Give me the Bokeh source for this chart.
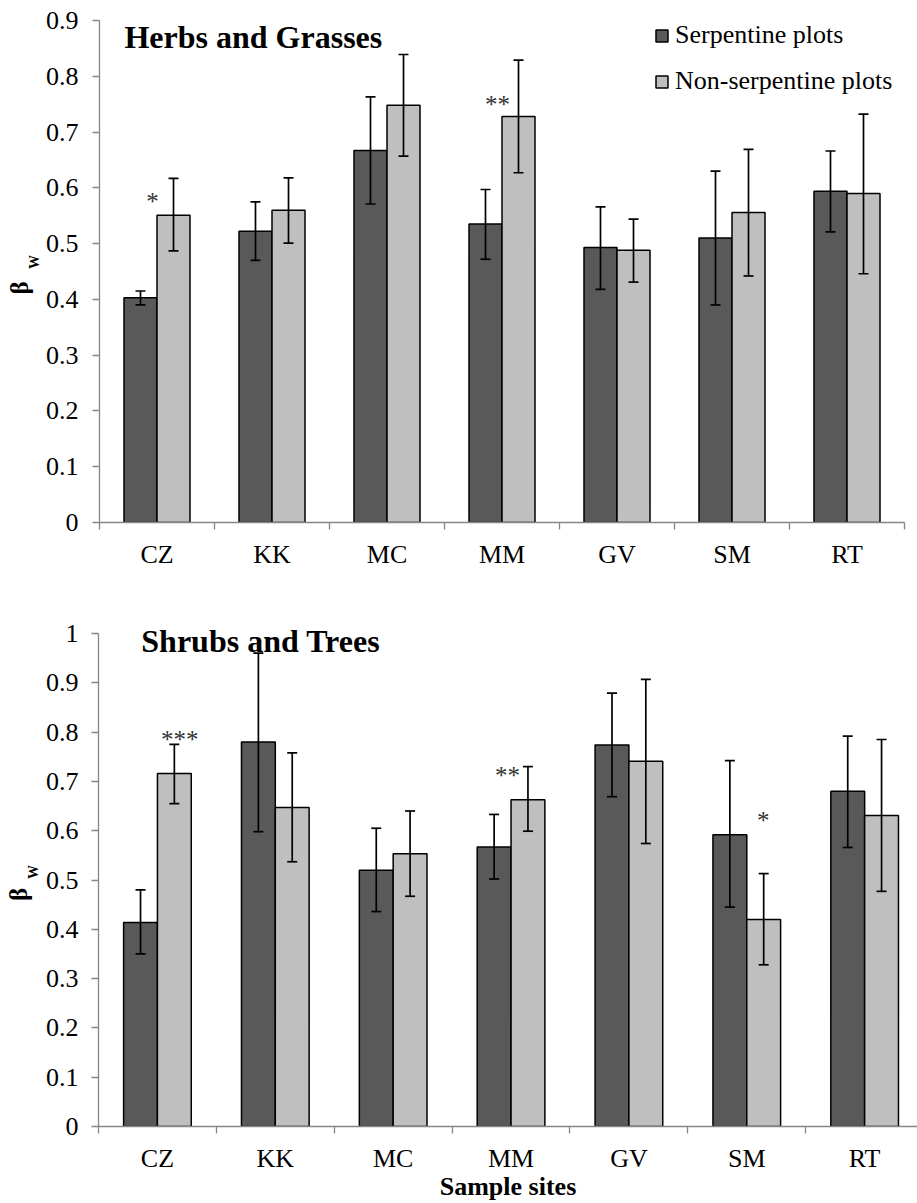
import numpy as np
from bokeh.plotting import figure
from bokeh.models import (ColumnDataSource, Whisker, TeeHead, FixedTicker, CustomJSTickFormatter,
                          Label, Legend, LegendItem, Range1d)
from bokeh.layouts import column, row
from bokeh.core.properties import value
from bokeh.embed import file_html
from bokeh.resources import INLINE

# ---------------- data ----------------
sites = ["CZ", "KK", "MC", "MM", "GV", "SM", "RT"]
series_names = ["Serpentine plots", "Non-serpentine plots"]

herb_serp = [0.403, 0.522, 0.667, 0.535, 0.493, 0.510, 0.594]
herb_serp_lo = [0.390, 0.470, 0.571, 0.472, 0.418, 0.390, 0.521]
herb_serp_hi = [0.415, 0.575, 0.763, 0.597, 0.566, 0.630, 0.666]
herb_non = [0.551, 0.560, 0.748, 0.728, 0.488, 0.556, 0.590]
herb_non_lo = [0.487, 0.501, 0.657, 0.627, 0.431, 0.442, 0.446]
herb_non_hi = [0.617, 0.618, 0.839, 0.829, 0.544, 0.669, 0.732]

shrub_serp = [0.414, 0.780, 0.520, 0.567, 0.774, 0.592, 0.680]
shrub_serp_lo = [0.350, 0.598, 0.436, 0.502, 0.669, 0.445, 0.566]
shrub_serp_hi = [0.480, 0.960, 0.605, 0.633, 0.879, 0.742, 0.792]
shrub_non = [0.716, 0.647, 0.553, 0.663, 0.741, 0.420, 0.631]
shrub_non_lo = [0.655, 0.537, 0.467, 0.599, 0.574, 0.328, 0.477]
shrub_non_hi = [0.775, 0.758, 0.640, 0.730, 0.907, 0.513, 0.785]

# significance marks: site index, text, y value, x offset (in category units)
herb_sig_site = [0, 3]
herb_sig_text = ["*", "**"]
herb_sig_y = [0.576, 0.750]
herb_sig_dx = [-0.04, -0.04]

shrub_sig_site = [0, 3, 5]
shrub_sig_text = ["***", "**", "*"]
shrub_sig_y = [0.785, 0.712, 0.621]
shrub_sig_dx = [0.19, -0.03, 0.14]

herb_ticks = [0, 0.1, 0.2, 0.3, 0.4, 0.5, 0.6, 0.7, 0.8, 0.9]
shrub_ticks = [0, 0.1, 0.2, 0.3, 0.4, 0.5, 0.6, 0.7, 0.8, 0.9, 1.0]

# ---------------- style ----------------
FONT = "Liberation Serif"
DARK = "#595959"
LIGHT = "#BFBFBF"
AXIS = "#868686"
BW = 0.287
LABW = 42  # width of the strip holding the y-axis title


def ylabel_strip(height, y_range, beta_xy, w_xy):
    # strip frame is aligned with the neighbouring panel's frame, so it shares its y range
    s = figure(width=LABW, height=height, x_range=Range1d(0, LABW), y_range=y_range,
               output_backend="svg", toolbar_location=None, min_border=0)
    s.axis.visible = False
    s.grid.visible = False
    s.outline_line_color = None
    s.title.visible = False
    s.text(x=[beta_xy[0]], y=[beta_xy[1]], text=["β"], angle=np.pi / 2,
           text_font=value(FONT), text_font_size="25px", text_font_style="bold",
           text_align="center", text_baseline="middle", text_color="black")
    s.text(x=[w_xy[0]], y=[w_xy[1]], text=["W"], angle=np.pi / 2,
           text_font=value(FONT), text_font_size="14px", text_font_style="bold",
           text_align="center", text_baseline="middle", text_color="black")
    return s


def make_panel(width, height, borders, xend, ymax, axis_top, yticks, ystand, title, title_pos,
               serp, serp_lo, serp_hi, non, non_lo, non_hi,
               sig_site, sig_text, sig_y, sig_dx, xlabel=None, legend=False):
    p = figure(width=width, height=height, x_range=Range1d(0, xend), y_range=Range1d(0, ymax),
               output_backend="svg", toolbar_location=None,
               min_border_left=borders[0], min_border_right=borders[1],
               min_border_top=borders[2], min_border_bottom=borders[3])
    p.outline_line_color = None
    p.xgrid.visible = False
    p.ygrid.visible = False
    p.title.visible = False

    n = len(sites)
    centers = np.arange(n) + 0.5
    xd = centers - BW / 2
    xl = centers + BW / 2

    src_d = ColumnDataSource(dict(x=xd, top=serp, lo=serp_lo, hi=serp_hi))
    src_l = ColumnDataSource(dict(x=xl, top=non, lo=non_lo, hi=non_hi))

    rd = p.vbar(x="x", top="top", bottom=0, width=BW, source=src_d,
                fill_color=DARK, line_color="black", line_width=1.5)
    rl = p.vbar(x="x", top="top", bottom=0, width=BW, source=src_l,
                fill_color=LIGHT, line_color="black", line_width=1.5)

    for src in (src_d, src_l):
        w = Whisker(base="x", upper="hi", lower="lo", source=src, dimension="height",
                    line_color="black", line_width=1.7, level="annotation",
                    upper_head=TeeHead(size=10, line_width=1.7, line_color="black"),
                    lower_head=TeeHead(size=10, line_width=1.7, line_color="black"))
        p.add_layout(w)

    # significance marks
    sx = [s + 0.5 + d for s, d in zip(sig_site, sig_dx)]
    p.text(x=sx, y=sig_y, text=sig_text, text_font=value(FONT), text_font_size="25px",
           text_align="center", text_baseline="middle", text_color="#333333")

    # panel title
    p.add_layout(Label(x=title_pos[0], y=title_pos[1], text=title, text_font=FONT,
                       text_font_size="32px", text_font_style="bold", text_color="black",
                       text_baseline="alphabetic", text_align="left"))

    # y axis
    ya = p.yaxis[0]
    ya.ticker = FixedTicker(ticks=yticks)
    ya.bounds = (0, axis_top)
    ya.formatter = CustomJSTickFormatter(code="return String(Number(tick.toFixed(2)));")
    ya.axis_line_color = AXIS
    ya.axis_line_width = 1.3
    ya.major_tick_line_color = AXIS
    ya.major_tick_line_width = 1.3
    ya.major_tick_out = 7
    ya.major_tick_in = 0
    ya.minor_tick_line_color = None
    ya.major_label_text_font = FONT
    ya.major_label_text_font_size = "26px"
    ya.major_label_text_color = "black"
    ya.major_label_standoff = ystand

    # x axis
    xa = p.xaxis[0]
    xa.ticker = FixedTicker(ticks=list(centers), minor_ticks=list(range(n + 1)))
    xa.formatter = CustomJSTickFormatter(args=dict(labels=sites),
                                         code="return labels[Math.round(tick - 0.5)];")
    xa.axis_line_color = AXIS
    xa.axis_line_width = 1.3
    xa.major_tick_line_color = None
    xa.major_tick_out = 0
    xa.major_tick_in = 0
    xa.minor_tick_line_color = AXIS
    xa.minor_tick_line_width = 1.3
    xa.minor_tick_out = 7
    xa.minor_tick_in = 0
    xa.major_label_text_font = FONT
    xa.major_label_text_font_size = "26px"
    xa.major_label_text_color = "black"
    xa.major_label_standoff = 10
    if xlabel:
        xa.axis_label = xlabel
        xa.axis_label_text_font = FONT
        xa.axis_label_text_font_size = "26px"
        xa.axis_label_text_font_style = "bold"
        xa.axis_label_text_color = "black"
        xa.axis_label_standoff = -4

    if legend:
        lg = Legend(items=[LegendItem(label=series_names[0], renderers=[rd]),
                           LegendItem(label=series_names[1], renderers=[rl])],
                    location=(555, 426), glyph_width=15, glyph_height=15,
                    label_height=30, spacing=16, padding=0, margin=0,
                    label_standoff=6, label_text_font=FONT, label_text_font_size="26px",
                    label_text_color="black", border_line_color=None,
                    background_fill_alpha=0)
        p.add_layout(lg)
    return p


p1 = make_panel(917 - LABW, 600, (99 - LABW, 13, 20, 78), 7, 0.9, 0.9, herb_ticks, 14,
                "Herbs and Grasses", (0.217, 0.871),
                herb_serp, herb_serp_lo, herb_serp_hi, herb_non, herb_non_lo, herb_non_hi,
                herb_sig_site, herb_sig_text, herb_sig_y, herb_sig_dx, legend=True)
s1 = ylabel_strip(600, p1.y_range, (19, 0.4204), (33.5, 0.467))

p2 = make_panel(917 - LABW, 603, (95 - LABW, 0, 13, 77), (917 - 95) / 118.3, 1 + 20 / 493, 1.0,
                shrub_ticks, 13, "Shrubs and Trees", (0.363, 0.985),
                shrub_serp, shrub_serp_lo, shrub_serp_hi, shrub_non, shrub_non_lo, shrub_non_hi,
                shrub_sig_site, shrub_sig_text, shrub_sig_y, shrub_sig_dx, xlabel="Sample sites")
s2 = ylabel_strip(603, p2.y_range, (18, 0.4706), (33, 0.516))

layout = column(row(s1, p1, spacing=0), row(s2, p2, spacing=0), spacing=0)
open("out.html", "w").write(file_html(layout, INLINE))
